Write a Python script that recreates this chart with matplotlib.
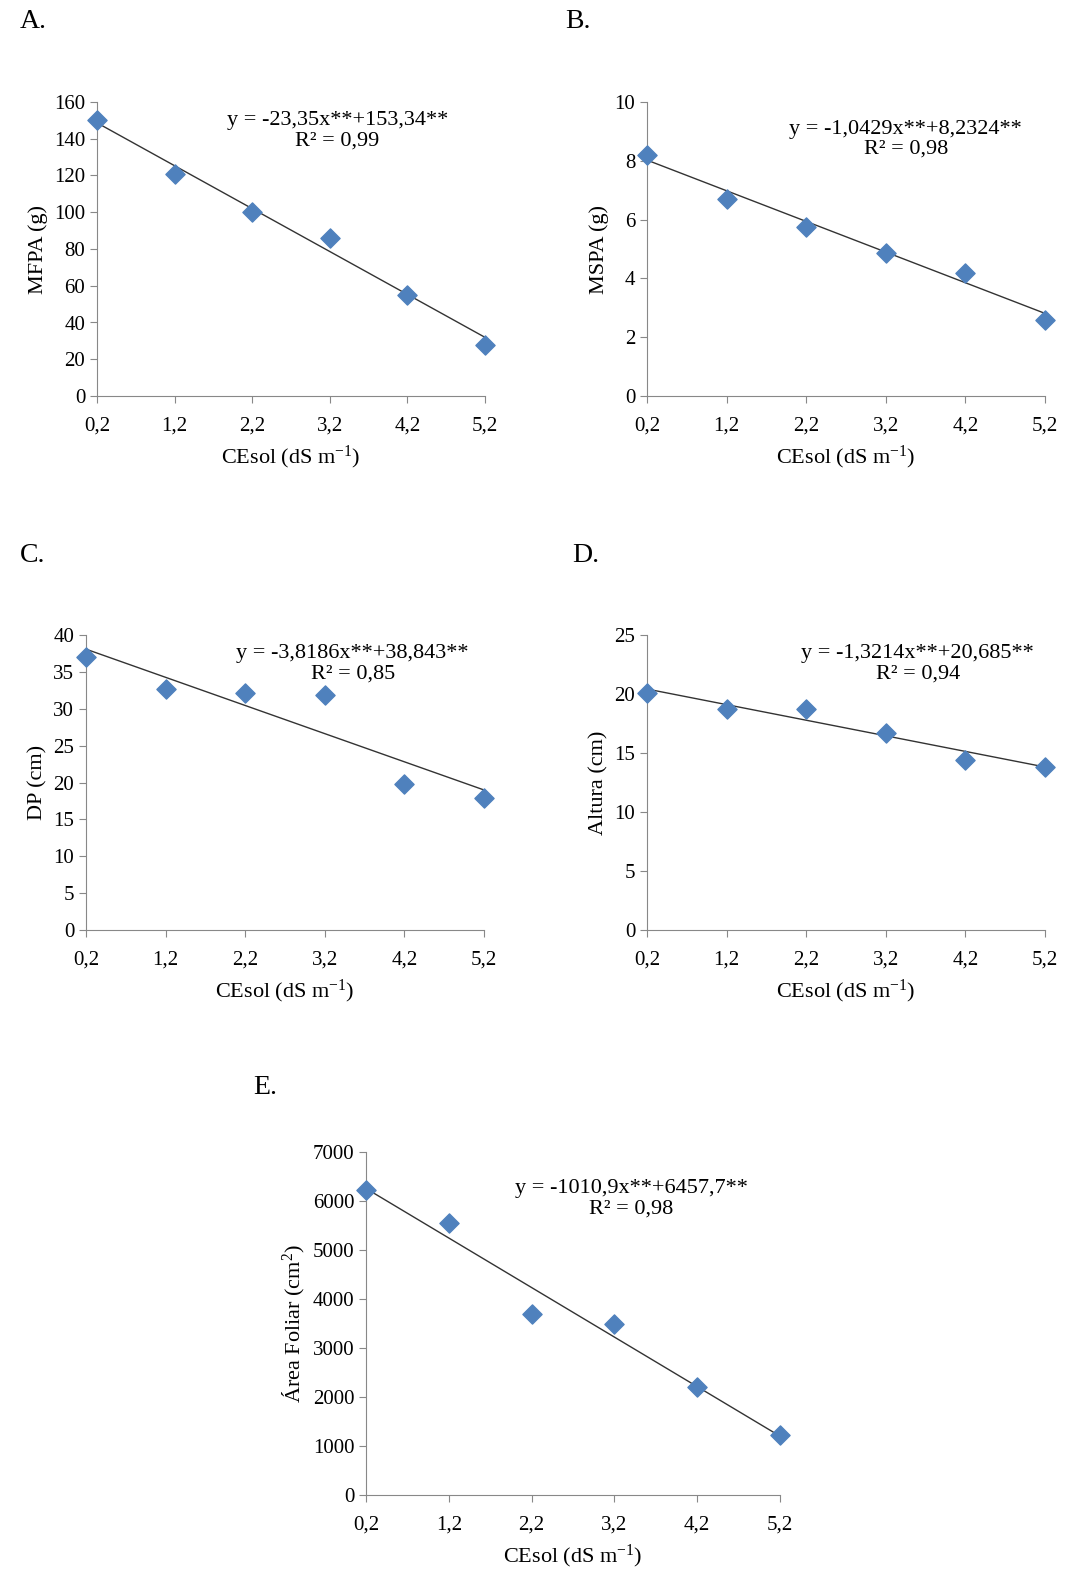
import matplotlib
matplotlib.use("Agg")
import matplotlib.pyplot as plt
import numpy as np

plt.rcParams['font.family'] = ['Liberation Serif', 'DejaVu Serif']
plt.rcParams['font.size'] = 15
plt.rcParams['mathtext.fontset'] = 'custom'
plt.rcParams['mathtext.rm'] = 'Liberation Serif'
plt.rcParams['mathtext.it'] = 'Liberation Serif:italic'
plt.rcParams['mathtext.default'] = 'rm'

x = [0.2, 1.2, 2.2, 3.2, 4.2, 5.2]
xlabels = ['0,2', '1,2', '2,2', '3,2', '4,2', '5,2']
mfpa = [150, 121, 100, 86, 55, 28]
mspa = [8.2, 6.7, 5.75, 4.85, 4.2, 2.6]
dp = [37, 32.7, 32.1, 31.8, 19.8, 17.9]
altura = [20.1, 18.7, 18.7, 16.7, 14.4, 13.8]
area = [6230, 5550, 3700, 3480, 2200, 1230]
slopes = [-23.35, -1.0429, -3.8186, -1.3214, -1010.9]
intercepts = [153.34, 8.2324, 38.843, 20.685, 6457.7]
eqs = ['y = -23,35x**+153,34**', 'y = -1,0429x**+8,2324**', 'y = -3,8186x**+38,843**',
       'y = -1,3214x**+20,685**', 'y = -1010,9x**+6457,7**']
r2 = ['R² = 0,99', 'R² = 0,98', 'R² = 0,85', 'R² = 0,94', 'R² = 0,98']
ylabels = ['MFPA (g)', 'MSPA (g)', 'DP (cm)', 'Altura (cm)', 'Área Foliar (cm$^2$)']
yticks = [np.arange(0, 161, 20), np.arange(0, 11, 2), np.arange(0, 41, 5),
          np.arange(0, 26, 5), np.arange(0, 7001, 1000)]
letters = ['A.', 'B.', 'C.', 'D.', 'E.']
series = [mfpa, mspa, dp, altura, area]

W, H = 1077, 1586
boxes = [(97, 102, 485, 396), (647, 102, 1045, 396), (86, 635, 484, 930),
         (647, 635, 1045, 930), (366, 1152, 780, 1495)]
letter_pos = [(20, 22), (565, 22), (20, 555), (572, 555), (253, 1088)]
eq_pos = [(0.62, 0.97), (0.65, 0.94), (0.67, 0.97), (0.68, 0.97), (0.64, 0.92)]

fig = plt.figure(figsize=(W/100, H/100), dpi=100)
for i in range(5):
    l, t, r, b = boxes[i]
    ax = fig.add_axes([l/W, 1-b/H, (r-l)/W, (b-t)/H])
    xs = np.array([0.2, 5.2])
    ax.plot(xs, slopes[i]*xs + intercepts[i], color='#333333', lw=1, zorder=2)
    ax.scatter(x, series[i], marker='D', s=95, color='#4F81BD', zorder=3, clip_on=False)
    ax.set_xlim(0.2, 5.2)
    ax.set_ylim(yticks[i][0], yticks[i][-1])
    ax.set_xticks(x)
    ax.set_xticklabels(xlabels)
    ax.set_yticks(yticks[i])
    ax.spines['top'].set_visible(False)
    ax.spines['right'].set_visible(False)
    for s in ['left', 'bottom']:
        ax.spines[s].set_color('#888888')
    ax.tick_params(direction='out', length=5, color='#888888', labelsize=15)
    ax.tick_params(axis='x', pad=10)
    ax.set_xlabel('CEsol (dS m$^{-1}$)', fontsize=16, labelpad=6)
    ax.set_ylabel(ylabels[i], fontsize=16, labelpad=4)
    ax.text(eq_pos[i][0], eq_pos[i][1], eqs[i] + '\n' + r2[i], transform=ax.transAxes,
            ha='center', va='top', fontsize=16, linespacing=1.1)
    lx, ly = letter_pos[i]
    fig.text(lx/W, 1-ly/H, letters[i], fontsize=20, va='center')

fig.savefig('out.png', dpi=100)
